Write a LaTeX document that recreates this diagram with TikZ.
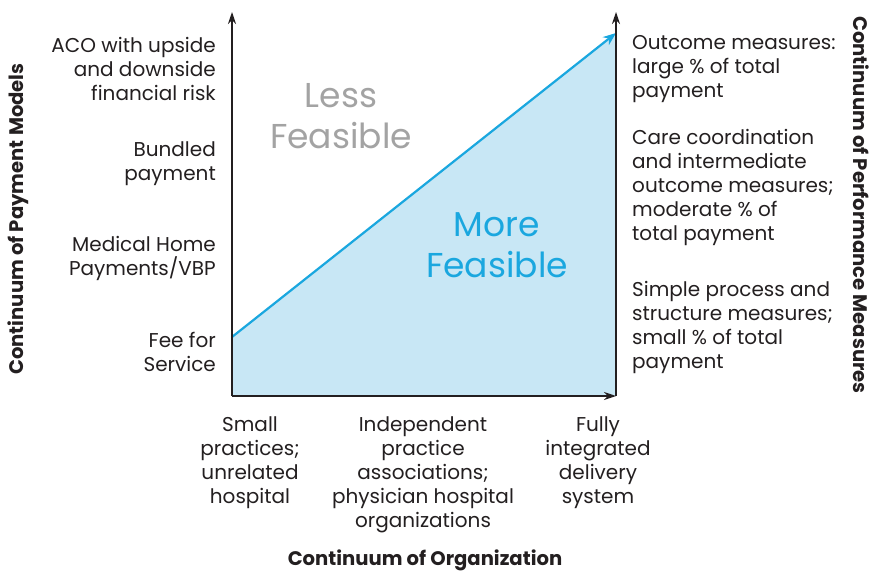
\documentclass[tikz,border=0pt]{standalone}
\usepackage{fontspec}
\setmainfont{Poppins}
\usepackage{xcolor}
\usetikzlibrary{positioning,arrows.meta}
\definecolor{axisgray}{HTML}{231F20}
\definecolor{areablue}{HTML}{C8E7F5}
\definecolor{lineblue}{HTML}{1AA7DF}
\definecolor{lessgray}{HTML}{A3A3A3}
\tikzset{
  axis/.style={draw=axisgray,line width=1.4pt,-{Stealth[length=12pt,width=8pt]}},
  trend/.style={draw=lineblue,line width=2.2pt,-{Stealth[length=13pt,width=10pt]}},
  lbl/.style={text=axisgray,font=\fontsize{20}{24}\selectfont,inner sep=0pt},
  leftlbl/.style={lbl,anchor=east,align=right},
  rightlbl/.style={lbl,anchor=west,align=left},
  botlbl/.style={lbl,anchor=north,align=center},
  title/.style={text=axisgray,font=\fontsize{19.6}{22}\selectfont\bfseries,inner sep=0pt},
  zone/.style={font=\fontsize{34.5}{41}\selectfont,inner sep=0pt,align=center}
}
\begin{document}
\begin{tikzpicture}[x=1pt,y=-1pt]
\useasboundingbox (0,0) rectangle (873,573);
\coordinate (O) at (232,396);
\coordinate (Ytop) at (232,12);
\coordinate (Xend) at (616,396);
\coordinate (Rtop) at (616,12);
\coordinate (Tstart) at (232,337);
\coordinate (Tend) at (616,33);
% shaded region
\fill [areablue] (Tstart) -- (Tend) -- (Xend) -- (O) -- cycle;
\draw [trend] (Tstart) -- (Tend);
\draw [axis] (O) -- (Ytop);
\draw [axis] (Xend) -- (Rtop);
\draw [axis] (O) -- (Xend);
\node [zone,text=lessgray] (less) at (341,116) {Less\\Feasible};
\node [zone,text=lineblue] (more) at (497,245) {More\\Feasible};
% payment models
\node [leftlbl] (aco) at (216,69) {ACO with upside\\and downside\\financial risk};
\node [leftlbl] (bundled) at (216,164) {Bundled\\payment};
\node [leftlbl] (medhome) at (216,258) {Medical Home\\Payments/VBP};
\node [leftlbl] (ffs) at (216,352) {Fee for\\Service};
% performance measures
\node [rightlbl] (outcome) at (632,69) {Outcome measures:\\large \% of total\\payment};
\node [rightlbl] (care) at (632,187) {Care coordination\\and intermediate\\outcome measures;\\moderate \% of\\total payment};
\node [rightlbl] (simple) at (632,327) {Simple process and\\structure measures;\\small \% of total\\payment};
% organization
\node [botlbl] (small) at (250,416) {Small\\practices;\\unrelated\\hospital};
\node [botlbl] (ipa) at (423,416) {Independent\\practice\\associations;\\physician hospital\\organizations};
\node [botlbl] (fully) at (598,416) {Fully\\integrated\\delivery\\system};
\node [title] (orgtitle) at (425,560) {Continuum of Organization};
\node [title,rotate=90] (paytitle) at (18,219) {Continuum of Payment Models};
\node [title,rotate=-90] (perftitle) at (861,205) {Continuum of Performance Measures};
\end{tikzpicture}
\end{document}
